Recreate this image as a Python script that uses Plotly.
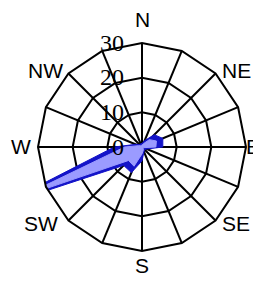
import plotly.graph_objects as go

directions = ["N", "NNE", "NE", "ENE", "E", "ESE", "SE", "SSE",
              "S", "SSW", "SW", "WSW", "W", "WNW", "NW", "NNW"]
compass_labels = ["N", "NE", "E", "SE", "S", "SW", "W", "NW"]

# outer (total) series and inner series, per direction
total_freq = [1.0, 2.0, 5.0, 6.5, 6.0, 1.5, 1.0, 1.5, 4.0, 8.0, 7.5, 45.0, 8.0, 2.0, 1.0, 1.0]
inner_freq = [0.5, 1.0, 3.0, 4.5, 4.0, 0.5, 0.5, 1.0, 2.0, 6.0, 5.5, 38.0, 5.0, 1.0, 0.5, 0.5]
radial_ticks = [0, 10, 20, 30]

# placement of the compass labels: pixel offsets from the rose centre (style, not data)
label_dx = [0, 94, 111, 94, 0, -101, -121, -97]
label_dy = [-127, -76, -1, 76, 118, 76, -1, -76]
PLOT_SIZE = 208.0

fig = go.Figure()
fig.add_trace(go.Scatterpolar(
    r=total_freq + total_freq[:1], theta=directions + directions[:1],
    mode="lines", fill="toself", fillcolor="rgb(20,20,200)",
    line=dict(color="rgb(20,20,200)", width=1), showlegend=False, hoverinfo="skip"))
fig.add_trace(go.Scatterpolar(
    r=inner_freq + inner_freq[:1], theta=directions + directions[:1],
    mode="lines", fill="toself", fillcolor="rgb(155,155,255)",
    line=dict(color="rgb(155,155,255)", width=1), showlegend=False, hoverinfo="skip"))

annotations = [
    dict(text=lab, xref="paper", yref="paper",
         x=0.5 + dx / PLOT_SIZE, y=0.5 - dy / PLOT_SIZE,
         xanchor="center", yanchor="middle", showarrow=False,
         font=dict(family="Liberation Sans", size=21, color="black"))
    for lab, dx, dy in zip(compass_labels, label_dx, label_dy)
]

fig.update_layout(
    width=261, height=282,
    margin=dict(l=30, r=23, t=35, b=39),
    paper_bgcolor="white",
    annotations=annotations,
    polar=dict(
        bgcolor="white",
        gridshape="linear",
        domain=dict(x=[0, 1], y=[0, 1]),
        radialaxis=dict(
            range=[0, 30], tickvals=radial_ticks, ticktext=[str(v) for v in radial_ticks],
            angle=90, tickangle=90, side="counterclockwise",
            showline=False, gridcolor="black", gridwidth=2,
            ticks="outside", ticklen=9, tickcolor="rgba(0,0,0,0)",
            tickfont=dict(family="Liberation Serif", size=24, color="black"),
        ),
        angularaxis=dict(
            type="category", categoryarray=directions,
            rotation=90, direction="clockwise",
            showticklabels=False, ticks="",
            showline=True, linecolor="black", linewidth=2,
            gridcolor="black", gridwidth=2,
        ),
    ),
)
fig.write_html("out.html")
